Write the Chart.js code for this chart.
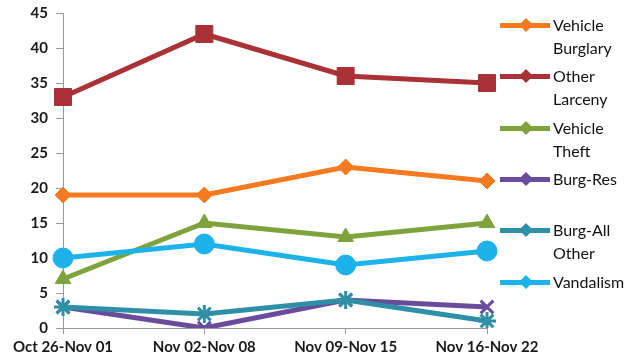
<!DOCTYPE html>
<html>
<head>
<meta charset="utf-8">
<script src="https://cdn.jsdelivr.net/npm/chart.js@4"></script>
<style>
    body { margin: 0; background: #fff; }
    #wrap { position: relative; width: 631px; height: 361px; }
    #legend { position: absolute; left: 0; top: 0; }
    .item { position: absolute; left: 500px; width: 131px; display: flex; align-items: flex-start; }
    .swatch { position: relative; width: 50px; height: 5px; margin-top: 10px; flex: none; }
    .swatch span { position: absolute; left: 21px; top: -3px; width: 10px; height: 10px; transform: rotate(45deg); }
    .label { font: 16px Lato, sans-serif; color: #111; line-height: 23px; width: 80px; margin-left: 3px; }
</style>
</head>
<body>
<div id="wrap">
    <canvas id="chart" width="631" height="361"></canvas>
    <div id="legend"></div>
</div>
<script>
const weeks = ['Oct 26-Nov 01', 'Nov 02-Nov 08', 'Nov 09-Nov 15', 'Nov 16-Nov 22'];
const seriesNames = ['Vehicle Burglary', 'Other Larceny', 'Vehicle Theft', 'Burg-Res', 'Burg-All Other', 'Vandalism'];

const vehicleBurglary = [19, 19, 23, 21];
const otherLarceny = [33, 42, 36, 35];
const vehicleTheft = [7, 15, 13, 15];
const burgRes = [3, 0, 4, 3];
const burgAllOther = [3, 2, 4, 1];
const vandalism = [10, 12, 9, 11];

const yTicks = [0, 5, 10, 15, 20, 25, 30, 35, 40, 45];

const colors = [
    '#f47a22', // Orange
    '#a83236', // Dark red
    '#7fa33c', // Green
    '#6a4c9c', // Purple
    '#2f8fa6', // Teal
    '#1db2ea'  // Light blue
];
const markers = ['rectRot', 'rect', 'triangle', 'crossRot', 'star', 'circle'];
const radii = [8, 12, 9, 9, 9, 10];

const values = [vehicleBurglary, otherLarceny, vehicleTheft, burgRes, burgAllOther, vandalism];

const datasets = values.map((data, i) => ({
    label: seriesNames[i],
    data: data,
    borderColor: colors[i],
    backgroundColor: colors[i],
    borderWidth: 5,
    pointStyle: markers[i],
    pointRadius: radii[i],
    pointBorderWidth: (markers[i] === 'crossRot' || markers[i] === 'star') ? 3 : 1,
    tension: 0,
    order: values.length - i // later series drawn on top, as in Excel
}));

const tickFont = { family: 'Lato, sans-serif', size: 15, weight: 'bold' };

new Chart(document.getElementById('chart'), {
    type: 'line',
    data: { labels: weeks, datasets: datasets },
    options: {
        responsive: false,
        animation: false,
        layout: { padding: { top: 13, right: 144, left: 0, bottom: 0 } },
        plugins: { legend: { display: false }, tooltip: { enabled: false } },
        scales: {
            x: {
                offset: false,
                grid: { drawOnChartArea: false, drawTicks: true, tickLength: 6, color: '#999' },
                border: { color: '#999', width: 1 },
                ticks: { font: tickFont, color: '#1a1a1a', maxRotation: 0, padding: 4 },
                afterFit: (scale) => { scale.height = 33; }
            },
            y: {
                min: 0,
                max: 45,
                afterBuildTicks: (scale) => { scale.ticks = yTicks.map(v => ({ value: v })); },
                grid: { drawOnChartArea: false, drawTicks: true, tickLength: 7, color: '#999' },
                border: { color: '#999', width: 1 },
                ticks: { font: tickFont, color: '#1a1a1a', padding: 8 },
                afterFit: (scale) => {
                    scale.width = 63;
                    scale.paddingTop = 0; // let the top tick sit at the layout padding
                    scale.paddingBottom = 0;
                }
            }
        }
    }
});

// HTML legend so long names can wrap like the original
const legend = document.getElementById('legend');
seriesNames.forEach((name, i) => {
    const item = document.createElement('div');
    item.className = 'item';
    item.style.top = (13 + i * 51.3) + 'px';
    item.innerHTML = '<div class="swatch" style="background:' + colors[i] + '"><span style="background:' + colors[i] + '"></span></div>' +
        '<div class="label">' + name + '</div>';
    legend.appendChild(item);
});
</script>
</body>
</html>
